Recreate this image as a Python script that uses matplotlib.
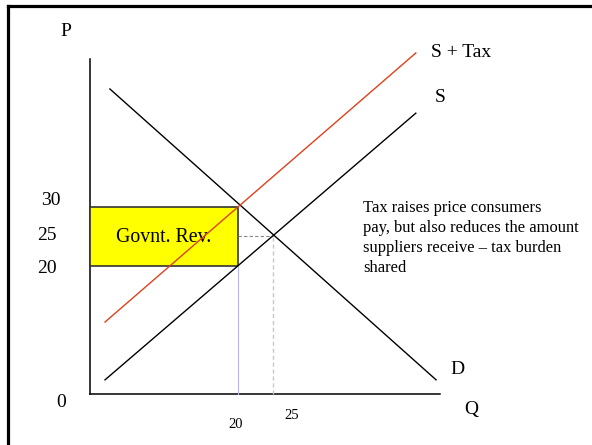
import matplotlib.pyplot as plt
from matplotlib.lines import Line2D
from matplotlib.patches import Rectangle

plt.rcParams["font.family"] = ["Liberation Serif", "DejaVu Serif"]

# curves, as (quantity, price) end points
D_Q = [1.7, 48.3]
D_P = [50.0, 0.7]
S_Q = [1.0, 45.4]
S_P = [0.7, 45.9]
TAX_Q = [1.0, 45.4]
TAX_P = [10.5, 56.1]

# market values
Q_TAX, Q_EQ = 20, 25
P_BUY, P_EQ, P_SELL = 30, 25, 20
P_TICKS = ["30", "25", "20"]
Q_TICKS = ["20", "25"]

NOTE = ("Tax raises price consumers\npay, but also reduces the amount\n"
        "suppliers receive \u2013 tax burden\nshared")

AX_Q0, AX_P0 = -1.14, -1.7
AX_QMAX, AX_PMAX = 48.9, 55.1

fig = plt.figure(figsize=(5.92, 4.45), dpi=100)
ax = fig.add_axes([0, 0, 1, 1])
ax.set_xlim(-14, 70.57)
ax.set_ylim(-10.34, 65.08)
ax.axis("off")

# frame on the top and left of the slide
fig.add_artist(Line2D([0.0135, 1], [0.9865, 0.9865], color="black", lw=2.3))
fig.add_artist(Line2D([0.0135, 0.0135], [0, 0.9865], color="black", lw=2.3))

# axes
ax.plot([AX_Q0, AX_Q0], [AX_P0, AX_PMAX], color="black", lw=1.1)
ax.plot([AX_Q0, AX_QMAX], [AX_P0, AX_P0], color="black", lw=1.1)

# government revenue box
ax.add_patch(Rectangle((AX_Q0, P_SELL), Q_TAX - AX_Q0, P_BUY - P_SELL,
                       facecolor="#ffff00", edgecolor="#333333", lw=1.2, zorder=2))
ax.text((AX_Q0 + Q_TAX) / 2, (P_BUY + P_SELL) / 2 - 0.2, "Govnt. Rev.",
        ha="center", va="center", fontsize=14.3, zorder=3)

# guide lines
ax.plot([Q_TAX, Q_TAX], [AX_P0, P_SELL], color="#b8b8f0", lw=0.8)
ax.plot([Q_EQ, Q_EQ], [AX_P0, P_EQ], color="#c8c8c8", lw=1.0, ls=(0, (3, 2)))
ax.plot([Q_TAX, Q_EQ], [P_EQ, P_EQ], color="#888888", lw=0.8, ls=(0, (3, 2)))

# curves
ax.plot(D_Q, D_P, color="black", lw=1.0, zorder=4)
ax.plot(S_Q, S_P, color="black", lw=1.0, zorder=4)
ax.plot(TAX_Q, TAX_P, color="#e0401a", lw=1.0, zorder=4)

# labels
ax.text(-4.57, 59.7, "P", ha="center", va="center", fontsize=14)
for lab, y in zip(P_TICKS, [31.1, 25.1, 19.5]):
    ax.text(-6.7 if lab == "30" else -7.3, y, lab, ha="center", va="center", fontsize=14)
ax.text(-5.3, -3.2, "0", ha="center", va="center", fontsize=14)
ax.text(19.7, -6.8, Q_TICKS[0], ha="center", va="center", fontsize=10.5)
ax.text(27.6, -5.4, Q_TICKS[1], ha="center", va="center", fontsize=10.5)
ax.text(53.3, -4.4, "Q", ha="center", va="center", fontsize=14)
ax.text(51.3, 2.5, "D", ha="center", va="center", fontsize=14)
ax.text(48.9, 48.5, "S", ha="center", va="center", fontsize=14)
ax.text(51.9, 56.1, "S + Tax", ha="center", va="center", fontsize=14)
ax.text(37.9, 31.2, NOTE, ha="left", va="top", fontsize=11.9, linespacing=1.34)

fig.savefig("out.png", dpi=100)
